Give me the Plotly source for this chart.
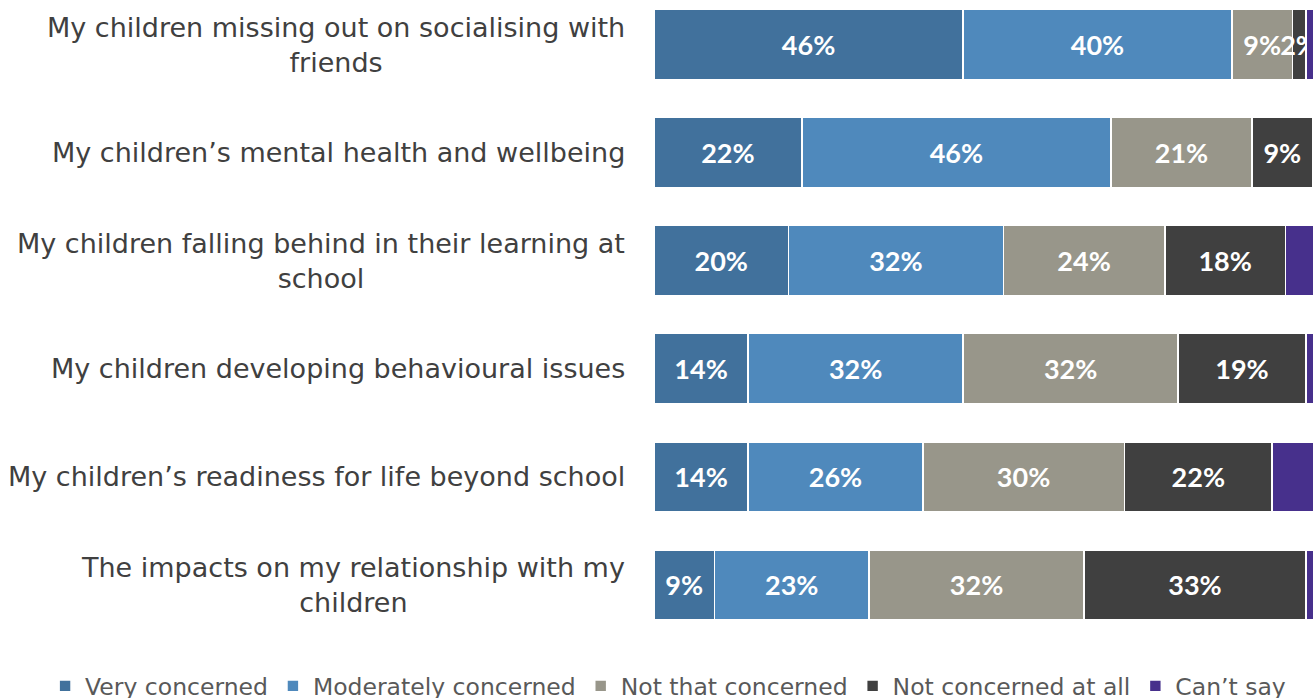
import plotly.graph_objects as go

# Survey items (top to bottom)
items = [
    "My children missing out on socialising with<br>friends",
    "My children’s mental health and wellbeing",
    "My children falling behind in their learning at<br>school",
    "My children developing behavioural issues",
    "My children’s readiness for life beyond school",
    "The impacts on my relationship with my<br>children",
]

# Share of parents (%) per response
very_concerned = [46, 22, 20, 14, 14, 9]
moderately_concerned = [40, 46, 32, 32, 26, 23]
not_that_concerned = [9, 21, 24, 32, 30, 32]
not_concerned_at_all = [2, 9, 18, 19, 22, 33]
cant_say = [3, 2, 6, 3, 8, 3]

series = [
    ("Very concerned", very_concerned, "#41719C", True),
    ("Moderately concerned", moderately_concerned, "#4F89BC", True),
    ("Not that concerned", not_that_concerned, "#98968A", True),
    ("Not concerned at all", not_concerned_at_all, "#404040", True),
    ("Can’t say", cant_say, "#47308C", False),
]

LABEL_FONT = "Lato"
CAT_FONT = "DejaVu Sans"

fig = go.Figure()
for name, vals, color, show_text in series:
    fig.add_trace(go.Bar(
        y=items,
        x=vals,
        name=name,
        orientation="h",
        marker=dict(color=color, line=dict(color="white", width=1.6)),
        width=0.65,
        texttemplate="<b>%{x}%</b>" if show_text else None,
        textposition="inside" if show_text else "none",
        insidetextanchor="middle",
        textangle=0,
        textfont=dict(family=LABEL_FONT, size=27, color="white"),
        hoverinfo="skip",
    ))

# Category labels, right-aligned against the bars with centred line wrap
for item in items:
    fig.add_annotation(
        x=0, xref="x", y=item, yref="y",
        text=item, showarrow=False,
        xanchor="right", yanchor="middle", align="center",
        xshift=-27,
        font=dict(family=CAT_FONT, size=27, color="#404040"),
    )

fig.update_layout(
    width=1313, height=698,
    margin=dict(l=654, r=0, t=0, b=58, pad=0, autoexpand=False),
    barmode="stack",
    plot_bgcolor="white",
    paper_bgcolor="white",
    uniformtext=dict(minsize=27, mode="show"),
    showlegend=True,
    legend=dict(
        orientation="h",
        x=-0.924, xanchor="left",
        y=-0.072, yanchor="middle",
        font=dict(family=CAT_FONT, size=23.5, color="#595959"),
        itemwidth=30,
        traceorder="normal",
    ),
    xaxis=dict(range=[0, 98.07], visible=False, fixedrange=True),
    yaxis=dict(type="category", range=[5.509, -0.412], visible=False,
               categoryorder="array", categoryarray=items),
)

fig.write_html("out.html")
